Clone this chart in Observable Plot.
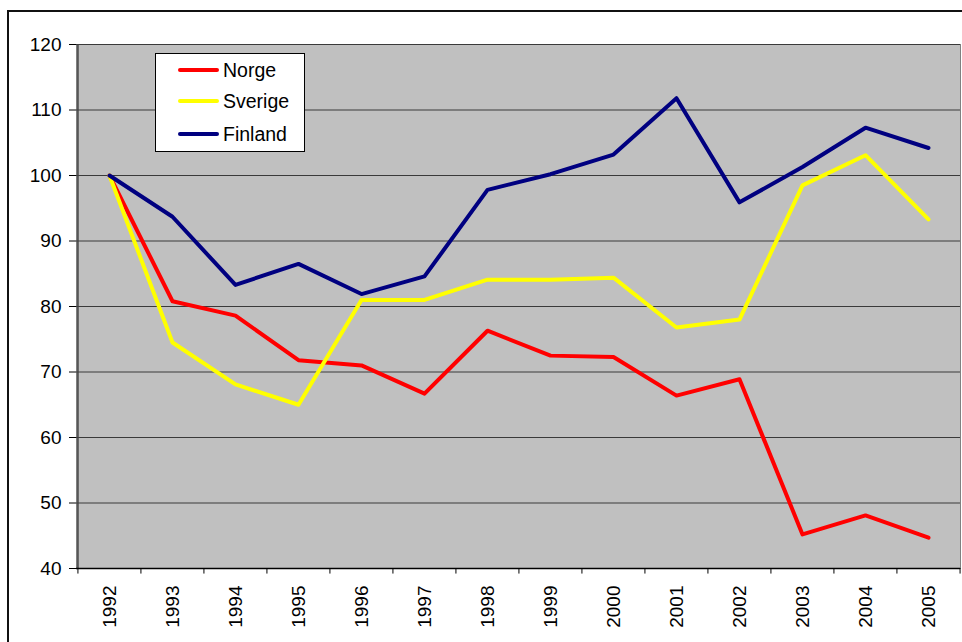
<!DOCTYPE html>
<html>
<head>
<meta charset="utf-8">
<script src="https://cdn.jsdelivr.net/npm/d3@7"></script>
<script src="https://cdn.jsdelivr.net/npm/@observablehq/plot@0.6"></script>
<style>
  body { margin: 0; background: white; }
  #wrap { position: relative; width: 962px; height: 642px; overflow: hidden; font-family: "Liberation Sans", Arial, sans-serif; }
  #border { position: absolute; left: 7px; top: 10px; width: 1000px; height: 700px; border: 2px solid #111; pointer-events: none; }
  #legend { position: absolute; left: 155px; top: 53px; width: 150px; height: 99px; background: white; border: 1px solid #000; box-sizing: border-box; }
  .entry { position: absolute; left: 0; height: 24px; width: 150px; }
  .entry .sw { position: absolute; left: 22px; width: 41px; height: 4px; border-radius: 2px; }
  .entry .lb { position: absolute; left: 67px; font-size: 19.5px; line-height: 24px; color: #000; white-space: nowrap; }
</style>
</head>
<body>
<div id="wrap"></div>
<script>
const years = ["1992","1993","1994","1995","1996","1997","1998","1999","2000","2001","2002","2003","2004","2005"];
const norge   = [100, 80.8, 78.6, 71.8, 71.0, 66.7, 76.3, 72.5, 72.3, 66.4, 68.9, 45.2, 48.1, 44.7];
const sverige = [100, 74.5, 68.1, 65.0, 81.0, 81.0, 84.1, 84.1, 84.4, 76.8, 78.0, 98.5, 103.1, 93.3];
const finland = [100, 93.7, 83.3, 86.5, 81.9, 84.6, 97.8, 100.2, 103.2, 111.8, 95.9, 101.3, 107.3, 104.2];
const seriesNames = ["Norge", "Sverige", "Finland"];
const seriesColors = ["#ff0000", "#ffff00", "#000080"];
const yTicks = [40, 50, 60, 70, 80, 90, 100, 110, 120];

const seriesValues = [norge, sverige, finland];
const rows = [];
seriesNames.forEach((name, s) => years.forEach((yr, i) => rows.push({series: name, year: yr, value: seriesValues[s][i]})));

const W = 962, H = 642, mL = 76, mR = 2, mT = 44, mB = 74;
const half = (W - mL - mR) / years.length / 2;

const plot = Plot.plot({
  width: W, height: H,
  marginLeft: mL, marginRight: mR, marginTop: mT, marginBottom: mB,
  style: {fontFamily: "'Liberation Sans', Arial, sans-serif", fontSize: "19px", color: "#000", background: "transparent", overflow: "visible"},
  x: {type: "point", domain: years, padding: 0.5, tickRotate: -90, tickSize: 0, tickPadding: 17, label: null},
  y: {domain: [40, 120], ticks: yTicks, tickSize: 7, tickPadding: 8, label: null},
  color: {domain: seriesNames, range: seriesColors},
  marks: [
    Plot.frame({fill: "#c0c0c0", stroke: "#808080"}),
    Plot.ruleY(yTicks.slice(1), {stroke: "#3a3a3a", strokeWidth: 1}),
    Plot.ruleX([years[0]], {y1: 40, y2: 120, dx: -half, stroke: "#404040", strokeWidth: 1.5}),
    Plot.ruleY([40], {stroke: "#000", strokeWidth: 1.5}),
    Plot.ruleX(years, {y1: 40, y2: 39.15, dx: -half, stroke: "#000", strokeWidth: 1}),
    Plot.ruleX([years[years.length - 1]], {y1: 40, y2: 39.15, dx: half, stroke: "#000", strokeWidth: 1}),
    Plot.lineY(rows, {x: "year", y: "value", z: "series", stroke: "series", strokeWidth: 4, strokeLinejoin: "round", strokeLinecap: "round"})
  ]
});

const wrap = document.getElementById("wrap");
wrap.appendChild(plot);

const legend = document.createElement("div");
legend.id = "legend";
const entryTops = [4, 35, 68];
seriesNames.forEach((name, i) => {
  const e = document.createElement("div");
  e.className = "entry";
  e.style.top = entryTops[i] + "px";
  const sw = document.createElement("div");
  sw.className = "sw";
  sw.style.top = "10px";
  sw.style.background = seriesColors[i];
  const lb = document.createElement("div");
  lb.className = "lb";
  lb.textContent = name;
  e.appendChild(sw); e.appendChild(lb);
  legend.appendChild(e);
});
wrap.appendChild(legend);

const border = document.createElement("div");
border.id = "border";
wrap.appendChild(border);
</script>
</body>
</html>
